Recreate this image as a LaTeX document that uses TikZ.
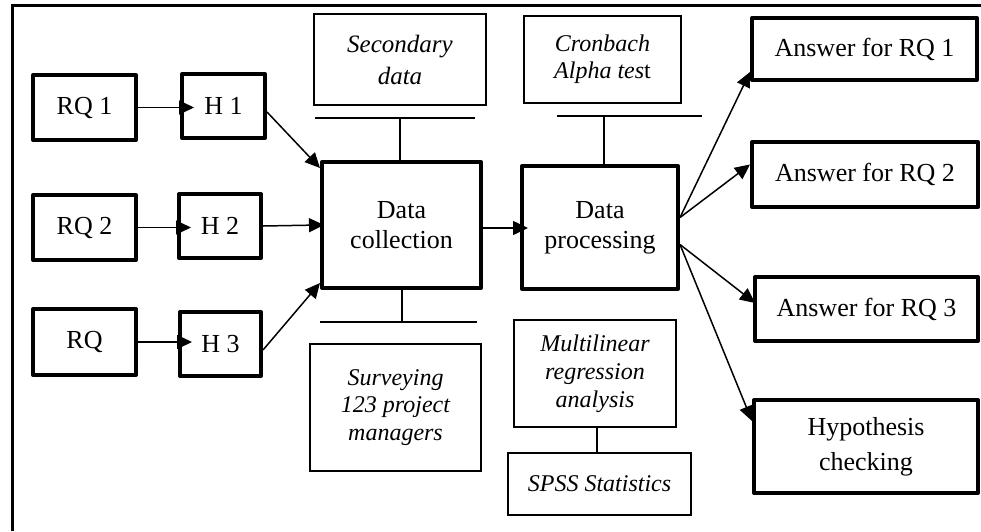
\documentclass[tikz,border=0pt]{standalone}
\usepackage{fontspec}
\setmainfont{Liberation Serif}
\usetikzlibrary{arrows.meta,calc}
\tikzset{
  thickbox/.style={draw, line width=4pt, line join=round, inner sep=0pt, align=center, font=\fontsize{26}{30}\selectfont},
  thinbox/.style={draw, line width=1.3pt, inner sep=0pt, align=center, font=\fontsize{24}{28}\selectfont\itshape},
  arr/.style={line width=1.5pt, -{Triangle[length=15pt,width=14pt]}},
  bar/.style={line width=1.3pt},
  frame/.style={line width=3pt},
}
\begin{document}
\begin{tikzpicture}[x=1pt,y=-1pt]
\useasboundingbox (0,0) rectangle (981,531);
\draw[frame] (12,531) -- (12,5) -- (981,5);
% left column
\node[thickbox, minimum width=103pt, minimum height=65pt] (rq1) at (84.5,107.5) {RQ 1};
\node[thickbox, minimum width=83pt, minimum height=64pt] (h1) at (223.5,106) {H 1};
\node[thickbox, minimum width=103pt, minimum height=65pt] (rq2) at (84.5,227.5) {RQ 2};
\node[thickbox, minimum width=82pt, minimum height=64pt] (h2) at (220,226) {H 2};
\node[thickbox, minimum width=103pt, minimum height=66pt] (rq3) at (84.5,342) {RQ};
\node[thickbox, minimum width=81pt, minimum height=64pt] (h3) at (220.5,344) {H 3};
% data collection column
\node[thinbox, minimum width=172pt, minimum height=91pt, font=\fontsize{25}{32}\selectfont\itshape] (sec) at (400,59.5) {Secondary\\data};
\node[thickbox, minimum width=159pt, minimum height=126pt] (dc) at (401.5,225) {Data\\collection};
\node[thinbox, minimum width=171pt, minimum height=127pt, font=\fontsize{24}{27.5}\selectfont\itshape] (surv) at (395.5,407.5) {Surveying\\123 project\\managers};
% data processing column
\node[thinbox, minimum width=157pt, minimum height=87pt, font=\fontsize{24}{27}\selectfont\itshape] (cron) at (602.5,59.5) {Cronbach\\Alpha tes\upshape t};
\node[thickbox, minimum width=156pt, minimum height=123pt] (dp) at (600,227.5) {Data\\processing};
\node[thinbox, minimum width=162pt, minimum height=107pt] (mult) at (595,373.5) {Multilinear\\regression\\analysis};
\node[thinbox, minimum width=183pt, minimum height=62pt] (spss) at (599.5,484) {SPSS Statistics};
% answers
\node[thickbox, minimum width=225pt, minimum height=62pt] (a1) at (864.5,49) {Answer for RQ 1};
\node[thickbox, minimum width=226pt, minimum height=65pt] (a2) at (865,174.5) {Answer for RQ 2};
\node[thickbox, minimum width=223pt, minimum height=64pt] (a3) at (866.5,309) {Answer for RQ 3};
\node[thickbox, minimum width=224pt, minimum height=93pt, font=\fontsize{26}{35}\selectfont] (hyp) at (866,446.5) {Hypothesis\\checking};
% bars
\coordinate (b1l) at (315,118); \coordinate (b1r) at (475,118);
\draw[bar] (b1l) -- (b1r);
\draw[bar] (dc.north -| 400,0) -- (400,118);
\coordinate (b2l) at (320,322); \coordinate (b2r) at (477,322);
\draw[bar] (b2l) -- (b2r);
\draw[bar] (dc.south -| 402,0) -- (402,322);
\coordinate (b3l) at (557,116); \coordinate (b3r) at (702,116);
\draw[bar] (b3l) -- (b3r);
\draw[bar] (dp.north -| 604,0) -- (604,116);
\draw[bar] (mult.south -| 597,0) -- (spss.north -| 597,0);
% arrows
\draw[arr, shorten >=-14pt] (rq1.east) -- (h1.west |- rq1.east);
\draw[arr, shorten >=-14pt] (rq2.east) -- (h2.west |- rq2.east);
\draw[arr, shorten >=-14pt] (rq3.east) -- (h3.west |- rq3.east);
\draw[arr] ($(h1.east)+(0,6)$) -- ($(dc.north west)+(0,8)$);
\draw[arr, shorten >=-4pt] (h2.east) -- (dc.west);
\draw[arr] ($(h3.east)+(0,6)$) -- ($(dc.south west)+(0,-7)$);
\draw[arr, shorten >=-8pt] (dc.east |- 0,228) -- (dp.west |- 0,228);
\draw[arr] ($(dp.east)+(0,-10)$) -- ($(a1.south west)+(0,-10)$);
\draw[arr] ($(dp.east)+(0,-10)$) -- ($(a2.west)+(0,-10)$);
\draw[arr] ($(dp.east)+(0,17)$) -- ($(a3.west)+(2,-6)$);
\draw[arr] ($(dp.east)+(0,17)$) -- ($(hyp.north west)+(0,23)$);
\end{tikzpicture}
\end{document}
